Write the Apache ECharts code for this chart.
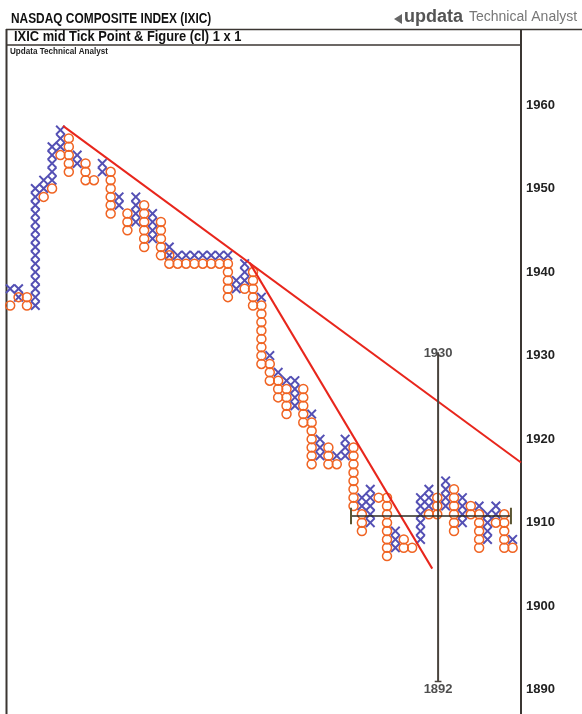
<!DOCTYPE html>
<html>
<head>
<meta charset="utf-8">
<script src="https://cdn.jsdelivr.net/npm/echarts@6/dist/echarts.min.js"></script>
<style>
  html, body { margin: 0; padding: 0; background: #fff; }
  #chart { width: 582px; height: 714px; }
</style>
</head>
<body>
<div id="chart"></div>
<script>
// price axis labels
const priceTicks = [1890, 1900, 1910, 1920, 1930, 1940, 1950, 1960];

// point & figure columns: [column, low box, high box]
const xColumns = [
  [0, 1938, 1938], [1, 1937, 1938], [3, 1936, 1950], [4, 1950, 1951],
  [5, 1951, 1955], [6, 1955, 1957], [8, 1953, 1954], [11, 1952, 1953],
  [13, 1948, 1949], [15, 1946, 1949], [17, 1944, 1947], [19, 1942, 1943],
  [20, 1942, 1942], [21, 1942, 1942], [22, 1942, 1942], [23, 1942, 1942],
  [24, 1942, 1942], [25, 1942, 1942], [26, 1942, 1942], [27, 1938, 1939],
  [28, 1939, 1941], [30, 1937, 1937], [31, 1930, 1930], [32, 1928, 1928],
  [33, 1927, 1927], [34, 1924, 1927], [36, 1923, 1923], [37, 1918, 1920],
  [39, 1918, 1918], [40, 1918, 1920], [42, 1912, 1913], [43, 1910, 1914],
  [46, 1907, 1909], [49, 1908, 1913], [50, 1912, 1914], [52, 1912, 1915],
  [54, 1910, 1913], [56, 1912, 1912], [57, 1908, 1911], [58, 1911, 1912],
  [60, 1908, 1908]
];
const oColumns = [
  [0, 1936, 1936], [1, 1937, 1937], [2, 1936, 1937], [4, 1949, 1949],
  [5, 1950, 1950], [6, 1954, 1954], [7, 1952, 1956], [9, 1951, 1953],
  [10, 1951, 1951], [12, 1947, 1952], [14, 1945, 1947], [16, 1943, 1948],
  [18, 1942, 1946], [19, 1941, 1942], [20, 1941, 1941], [21, 1941, 1941],
  [22, 1941, 1941], [23, 1941, 1941], [24, 1941, 1941], [25, 1941, 1941],
  [26, 1937, 1941], [28, 1938, 1938], [29, 1936, 1940], [30, 1929, 1936],
  [31, 1927, 1929], [32, 1925, 1927], [33, 1923, 1926], [35, 1922, 1926],
  [36, 1917, 1922], [38, 1917, 1919], [39, 1917, 1917], [41, 1912, 1919],
  [42, 1909, 1911], [44, 1913, 1913], [45, 1906, 1913], [47, 1907, 1908],
  [48, 1907, 1907], [50, 1911, 1911], [51, 1911, 1913], [53, 1909, 1914],
  [55, 1911, 1912], [56, 1907, 1911], [58, 1910, 1910], [59, 1907, 1911],
  [60, 1907, 1907]
];

// trend lines and the count target cross
const trendLine1 = [[6.3, 1957.5], [61.0, 1917.2]];
const trendLine2 = [[28.6, 1941.1], [50.4, 1904.5]];
const targetVertical = [[51.1, 1930.4], [51.1, 1891.0]];
const targetBottomTick = [[50.7, 1891.0], [51.5, 1891.0]];
const targetHorizontal = [[40.7, 1910.8], [59.8, 1910.8]];
const targetCapLeft = [[40.7, 1909.8], [40.7, 1911.8]];
const targetCapRight = [[59.8, 1909.8], [59.8, 1911.8]];
const targetLabels = [['1930', 51.1, 1930.3], ['1892', 51.1, 1890.1]];

function boxes(cols) {
  const pts = [];
  cols.forEach(([c, lo, hi]) => {
    for (let p = lo; p <= hi; p++) pts.push([c, p]);
  });
  return pts;
}

const sans = "'Liberation Sans', Arial, sans-serif";
const crossPath = 'path://M0,1.4L1.4,0L5,3.6L8.6,0L10,1.4L6.4,5L10,8.6L8.6,10L5,6.4L1.4,10L0,8.6L3.6,5Z';
const frameColor = '#3b3632';

function segment(data, color, width, z) {
  return {
    type: 'line', data: data, symbol: 'none', silent: true, z: z,
    lineStyle: { color: color, width: width }, animation: false
  };
}

const chart = echarts.init(document.getElementById('chart'));
chart.setOption({
  animation: false,
  backgroundColor: '#fff',
  grid: { left: 6, right: 61, top: 46.5, bottom: 0 },
  xAxis: { type: 'value', min: -0.5, max: 61.0, show: false },
  yAxis: {
    type: 'value', position: 'right', min: 1887.1, max: 1967, splitNumber: 8,
    axisLine: { show: false }, axisTick: { show: false }, splitLine: { show: false },
    axisLabel: {
      margin: 5, color: '#222', fontWeight: 'bold', fontSize: 13, fontFamily: sans,
      showMinLabel: false, showMaxLabel: false,
      formatter: v => priceTicks.includes(Math.round(v)) && Math.abs(v - Math.round(v)) < 1e-6 ? String(v) : ''
    }
  },
  graphic: [
    { type: 'text', x: 11, y: 12, scaleX: 0.85, style: { text: 'NASDAQ COMPOSITE INDEX (IXIC)', font: "bold 14px " + sans, fill: '#111' } },
    { type: 'polygon', shape: { points: [[394, 19], [402, 14], [402, 24]] }, style: { fill: '#666' } },
    { type: 'text', x: 404, y: 8, style: { text: 'updata', font: "bold 18px " + sans, fill: '#555' } },
    { type: 'text', x: 469, y: 10, style: { text: 'Technical Analyst', font: "14px " + sans, fill: '#777' } },
    { type: 'line', shape: { x1: 6, y1: 29.5, x2: 582, y2: 29.5 }, style: { stroke: frameColor, lineWidth: 1.5 } },
    { type: 'line', shape: { x1: 6, y1: 45, x2: 521, y2: 45 }, style: { stroke: frameColor, lineWidth: 1.5 } },
    { type: 'line', shape: { x1: 6.5, y1: 29, x2: 6.5, y2: 714 }, style: { stroke: frameColor, lineWidth: 2 } },
    { type: 'line', shape: { x1: 521, y1: 29, x2: 521, y2: 714 }, style: { stroke: frameColor, lineWidth: 2 } },
    { type: 'text', x: 14, y: 30.5, scaleX: 0.92, style: { text: 'IXIC mid Tick Point & Figure (cl) 1 x 1', font: "bold 14px " + sans, fill: '#111' } },
    { type: 'text', x: 10, y: 47.5, scaleX: 0.9, style: { text: 'Updata Technical Analyst', font: "bold 9px " + sans, fill: '#222' } }
  ],
  series: [
    {
      type: 'scatter', data: boxes(xColumns), symbol: crossPath, symbolSize: 10, z: 3,
      itemStyle: { color: '#5450b4', opacity: 1 }, silent: true
    },
    {
      type: 'scatter', data: boxes(oColumns), symbol: 'circle', symbolSize: 9, z: 4,
      itemStyle: { color: 'rgba(255,255,255,0)', borderColor: '#f06423', borderWidth: 1.5, opacity: 1 }, silent: true
    },
    segment(trendLine1, '#e8261c', 2, 5),
    segment(trendLine2, '#e8261c', 2, 5),
    segment(targetVertical, '#4a443e', 2, 6),
    segment(targetBottomTick, '#4a443e', 1.5, 6),
    segment(targetHorizontal, '#2b2a22', 1.5, 6),
    segment(targetCapLeft, '#5a5532', 2, 6),
    segment(targetCapRight, '#5a5532', 2, 6),
    {
      type: 'scatter', symbolSize: 0, z: 7, silent: true,
      data: targetLabels.map(([t, c, p]) => ({ name: t, value: [c, p] })),
      label: {
        show: true, position: 'inside', formatter: p => p.name,
        color: '#222', fontWeight: 'bold', fontSize: 13, fontFamily: sans
      }
    }
  ]
});
</script>
</body>
</html>
